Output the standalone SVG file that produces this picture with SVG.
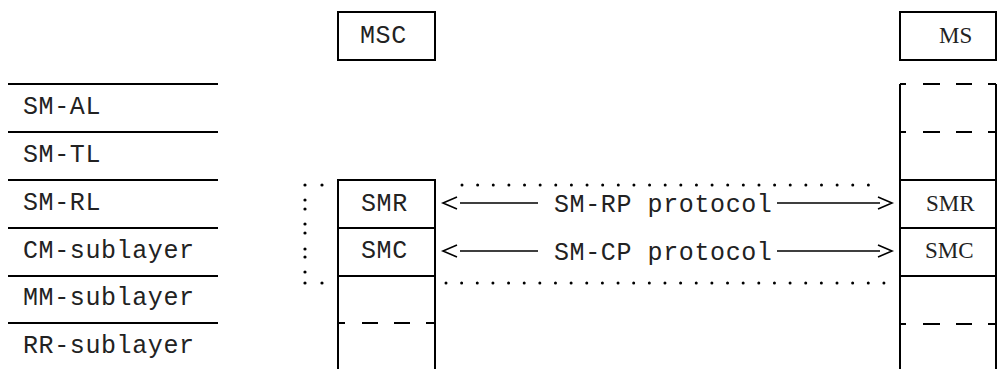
<svg xmlns="http://www.w3.org/2000/svg" width="1007" height="369" viewBox="0 0 1007 369">
<style>
.ln{stroke:#000;stroke-width:2;fill:none}
.thin{stroke:#000;stroke-width:1.6;fill:none}
.mono{font-family:"Liberation Mono","Courier New",monospace;font-size:25px;letter-spacing:0.6px;fill:#222}
.serif{font-family:"Liberation Serif","Times New Roman",serif;font-size:23px;fill:#222}
.dot{fill:#000}
</style>
<rect width="1007" height="369" fill="#fff"/>
<g id="layers">
<path class="ln" d="M8,84H218M8,132H218M8,180H218M8,228H218M8,276H218M8,323H218"/>
<text class="mono" x="23" y="114">SM-AL</text>
<text class="mono" x="23" y="162">SM-TL</text>
<text class="mono" x="23" y="210">SM-RL</text>
<text class="mono" x="23" y="258">CM-sublayer</text>
<text class="mono" x="23" y="305">MM-sublayer</text>
<text class="mono" x="23" y="353">RR-sublayer</text>
</g>
<g id="msc">
<rect class="ln" x="338" y="12" width="97" height="48"/>
<text class="mono" x="360" y="43">MSC</text>
</g>
<g id="msc-stack">
<path class="ln" d="M338,369V180H435V369M338,228H435M338,276H435"/>
<path class="ln" d="M338,323H345M362,323H378M394,323H410M426,323H435"/>
<text class="mono" x="361" y="211">SMR</text>
<text class="mono" x="361" y="258">SMC</text>
</g>
<g id="ms">
<rect class="ln" x="900" y="12" width="96" height="48"/>
<text class="serif" x="939" y="43">MS</text>
</g>
<g id="ms-stack">
<path class="ln" d="M900,369V84M996,369V84M900,180H996M900,228H996M900,276H996"/>
<path class="ln" d="M900,84H906M923,84H940M956,84H972M988,84H996"/>
<path class="ln" d="M900,132H906M923,132H940M956,132H972M988,132H996"/>
<path class="ln" d="M900,324H906M923,324H940M956,324H972M988,324H996"/>
<text class="serif" x="926" y="211">SMR</text>
<text class="serif" x="925" y="258">SMC</text>
</g>
<g id="connectors">
<path class="thin" d="M460,203H538M777,203H880"/>
<path class="thin" d="M457,197L443,203L457,209M878,197L892,203L878,209"/>
<path class="thin" d="M460,251H538M777,251H880"/>
<path class="thin" d="M457,245L443,251L457,257M878,245L892,251L878,257"/>
<text class="mono" x="554" y="212">SM-RP protocol</text>
<text class="mono" x="554" y="260">SM-CP protocol</text>
<g id="boundary">
<line x1="462" y1="185" x2="884" y2="185" stroke="#000" stroke-width="3" stroke-linecap="round" stroke-dasharray="0 15.63"/>
<line x1="446" y1="283" x2="884" y2="283" stroke="#000" stroke-width="3" stroke-linecap="round" stroke-dasharray="0 15.64"/>
<circle class="dot" cx="305" cy="185" r="1.6"/>
<circle class="dot" cx="322" cy="185" r="1.6"/>
<circle class="dot" cx="305" cy="200" r="1.6"/>
<circle class="dot" cx="305" cy="209" r="1.6"/>
<circle class="dot" cx="305" cy="224" r="1.6"/>
<circle class="dot" cx="305" cy="233" r="1.6"/>
<circle class="dot" cx="305" cy="249" r="1.6"/>
<circle class="dot" cx="305" cy="257" r="1.6"/>
<circle class="dot" cx="305" cy="272" r="1.6"/>
<circle class="dot" cx="305" cy="283" r="1.6"/>
<circle class="dot" cx="322" cy="283" r="1.6"/>
</g>
</g>
</svg>
